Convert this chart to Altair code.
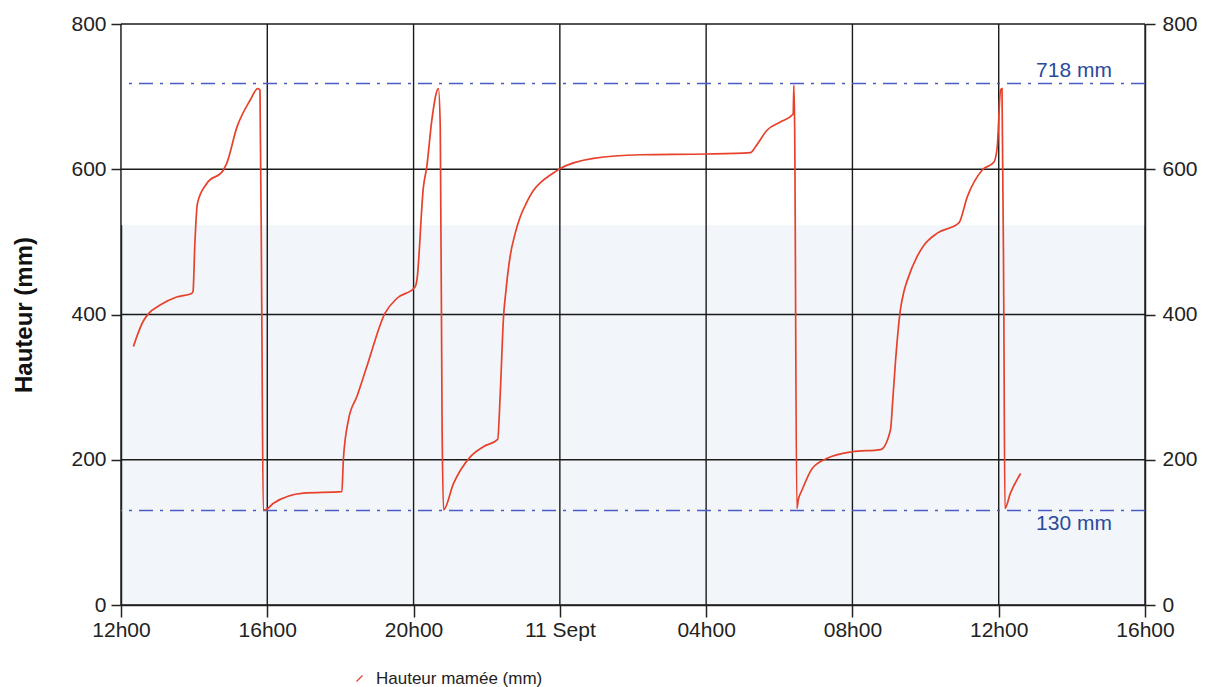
import altair as alt
import pandas as pd

# hours elapsed since 12h00 on day 1
hours = [0.34, 0.45, 0.60, 0.75, 1.07, 1.52, 1.93, 1.97, 2.02, 2.09, 2.34, 2.80, 2.89, 3.17, 3.53, 3.74,
         3.80, 3.85, 3.89, 3.94, 4.17, 4.99, 6.04, 6.08, 6.22, 6.45, 6.72, 7.22, 7.54, 8.04, 8.09,
         8.27, 8.36, 8.50, 8.68, 8.73, 8.78, 8.82, 9.09, 9.55, 9.91, 10.30, 10.37, 10.46, 10.52, 10.64,
         10.78, 10.92, 11.08, 11.28, 11.50, 11.74, 12.01, 12.92, 14.20, 16.02, 17.21, 17.35, 17.67,
         18.03, 18.38, 18.40, 18.42, 18.48, 18.52, 18.62, 18.90, 19.31, 19.99, 20.77, 21.04, 21.10,
         21.18, 21.31, 21.40, 21.50, 21.77, 21.95, 22.32, 22.91, 23.14, 23.55, 23.87, 23.96, 24.05,
         24.09, 24.14, 24.17, 24.32, 24.60]
heights = [356, 372, 390, 401, 413, 424, 429, 432, 498, 553, 580, 599, 608, 658, 695, 711,
           709, 400, 131, 131, 140, 154, 156, 200, 255, 287, 328, 402, 422, 438, 447,
           576, 603, 668, 711, 658, 245, 131, 167, 204, 218, 228, 291, 397, 430, 480,
           512, 535, 553, 571, 583, 592, 601, 615, 620, 621, 623, 631, 654,
           665, 676, 716, 660, 133, 145, 158, 188, 202, 211, 214, 241, 280,
           337, 406, 430, 447, 480, 495, 512, 526, 562, 599, 610, 631, 709,
           711, 400, 133, 154, 181]

series_name = "Hauteur mamée (mm)"
tick_hours = [0, 4, 8, 12, 16, 20, 24, 28]
tick_labels = ["12h00", "16h00", "20h00", "11 Sept", "04h00", "08h00", "12h00", "16h00"]
y_ticks = [0, 200, 400, 600, 800]
ref_values = [718, 130]
ref_labels = ["718 mm", "130 mm"]

df = pd.DataFrame({"h": hours, "v": heights, "s": series_name})
ref_df = pd.DataFrame({"v": ref_values, "label": ref_labels})
vgrid_df = pd.DataFrame({"h": tick_hours})
hgrid_df = pd.DataFrame({"v": y_ticks})

label_expr = "[" + ",".join(f"'{t}'" for t in tick_labels) + "][round(datum.value/4)]"

FONT = "Liberation Sans"
GRID = "#1a1a1a"
xscale = alt.Scale(domain=[0, 28], nice=False, zero=False)
yscale = alt.Scale(domain=[0, 800], nice=False)

x_axis = alt.Axis(values=tick_hours, labelExpr=label_expr, title=None, grid=False,
                  domainColor="#333", domainWidth=1.5, tickColor="#222", tickSize=12,
                  tickWidth=1.5, labelFontSize=21, labelColor="#222", labelPadding=2,
                  labelFont=FONT, labelFlush=False, labelOverlap=False)

band = alt.Chart(pd.DataFrame({"a": [0]})).mark_rect(color="#ffffff").encode(
    y=alt.datum(523, scale=yscale), y2=alt.datum(800),
    x=alt.value(0), x2=alt.value(1024))

vgrid = alt.Chart(vgrid_df).mark_rule(color=GRID, strokeWidth=1.4).encode(
    x=alt.X("h:Q", scale=xscale, axis=x_axis))
hgrid = alt.Chart(hgrid_df).mark_rule(color=GRID, strokeWidth=1.4).encode(
    y=alt.Y("v:Q", scale=yscale))

line = alt.Chart(df).mark_line(strokeWidth=1.7, interpolate="monotone").encode(
    x=alt.X("h:Q", scale=xscale, axis=x_axis),
    y=alt.Y("v:Q", scale=yscale,
            axis=alt.Axis(values=y_ticks, title="Hauteur  (mm)", grid=False,
                          domainColor="#333", domainWidth=1.5, tickColor="#222",
                          tickSize=10, tickWidth=1.5, labelFontSize=21, labelColor="#222",
                          labelPadding=5, labelFlush=False,
                          labelFont=FONT, titleFont=FONT, titleFontSize=24,
                          titleFontWeight="bold", titleColor="#111", titlePadding=34)),
    color=alt.Color("s:N", scale=alt.Scale(domain=[series_name], range=["#e8412b"]),
                    legend=alt.Legend(title=None, orient="none", legendX=230, legendY=646,
                                      symbolType="M -0.6 0.6 L 0.6 -0.6", symbolSize=100,
                                      symbolStrokeWidth=1.2, labelFontSize=17, labelLimit=400,
                                      labelFont=FONT, labelColor="#222", labelOffset=8)),
)

right = alt.Chart(df).mark_line(opacity=0).encode(
    x=alt.X("h:Q", scale=xscale, axis=x_axis),
    y=alt.Y("v:Q", scale=yscale,
            axis=alt.Axis(orient="right", values=y_ticks, title=None, grid=False,
                          domainColor="#333", domainWidth=1.5, tickColor="#222",
                          tickSize=10, tickWidth=1.5, labelFontSize=21, labelColor="#222",
                          labelFont=FONT, labelPadding=7, labelFlush=False)),
)

rules = alt.Chart(ref_df).mark_rule(color="#4a5bc8", strokeWidth=1.5,
                                    strokeDash=[14, 7, 3, 7]).encode(
    y=alt.Y("v:Q", scale=yscale))

top_text = alt.Chart(ref_df[ref_df.v == 718]).mark_text(
    color="#2b4a9a", fontSize=21, font=FONT, align="center", baseline="bottom", dy=-3
).encode(y=alt.Y("v:Q", scale=yscale), x=alt.value(953), text="label:N")
bot_text = alt.Chart(ref_df[ref_df.v == 130]).mark_text(
    color="#2b4a9a", fontSize=21, font=FONT, align="center", baseline="top", dy=2
).encode(y=alt.Y("v:Q", scale=yscale), x=alt.value(953), text="label:N")

main = alt.layer(band, vgrid, hgrid, rules, line, top_text, bot_text)
chart = alt.layer(main, right).resolve_scale(y="independent").properties(
    width=1024, height=581,
    autosize=alt.AutoSizeParams(type="none"),
    padding={"left": 113, "top": 16, "right": 55, "bottom": 82},
    background="#ffffff",
).configure_view(fill="#f2f6fa", stroke=None)

chart.save("out.html", embed_options={"renderer": "svg", "actions": False})
